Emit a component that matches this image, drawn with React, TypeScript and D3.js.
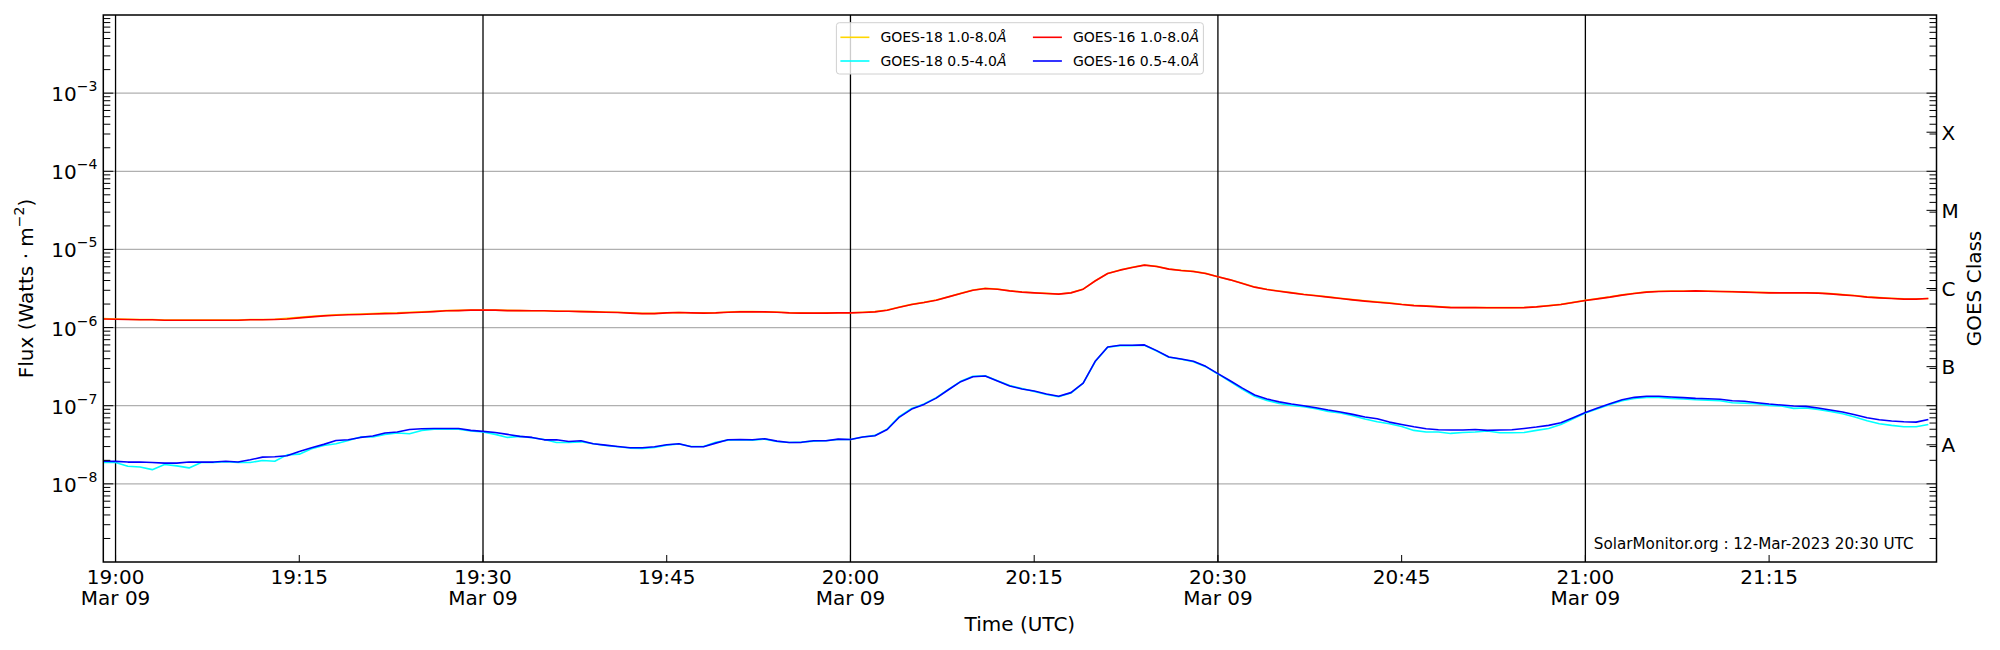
import { useEffect, useRef } from "react";
import * as d3 from "d3";

// one-minute cadence starting 18:59 UTC on 2023-03-09
const START = Date.UTC(2023, 2, 9, 18, 59);
const END = Date.UTC(2023, 2, 9, 21, 28, 40);
const N_POINTS = 150;

// GOES-16 1.0-8.0 Å, units of 1e-6 W m^-2
const goes16Long = [
  1.29, 1.28, 1.27, 1.26, 1.26, 1.24, 1.24, 1.24, 1.24, 1.24,
  1.24, 1.24, 1.26, 1.26, 1.27, 1.29, 1.33, 1.37, 1.41, 1.44,
  1.46, 1.47, 1.49, 1.51, 1.52, 1.55, 1.57, 1.6, 1.64, 1.65,
  1.67, 1.67, 1.67, 1.65, 1.65, 1.64, 1.64, 1.62, 1.62, 1.6,
  1.59, 1.57, 1.56, 1.53, 1.51, 1.51, 1.54, 1.56, 1.54, 1.53,
  1.54, 1.57, 1.59, 1.59, 1.59, 1.57, 1.54, 1.53, 1.53, 1.53,
  1.54, 1.54, 1.56, 1.59, 1.67, 1.82, 1.97, 2.09, 2.24, 2.47,
  2.73, 3.01, 3.16, 3.1, 2.95, 2.84, 2.78, 2.73, 2.68, 2.78,
  3.1, 3.97, 4.92, 5.43, 5.88, 6.3, 6.05, 5.6, 5.38, 5.22,
  4.92, 4.46, 4.08, 3.66, 3.29, 3.07, 2.92, 2.78, 2.65, 2.55,
  2.45, 2.35, 2.26, 2.18, 2.11, 2.05, 1.97, 1.91, 1.88, 1.84,
  1.8, 1.8, 1.8, 1.79, 1.79, 1.79, 1.8, 1.84, 1.9, 1.97,
  2.09, 2.22, 2.33, 2.45, 2.6, 2.73, 2.84, 2.89, 2.92, 2.92,
  2.95, 2.92, 2.89, 2.87, 2.84, 2.81, 2.78, 2.78, 2.78, 2.78,
  2.76, 2.7, 2.62, 2.55, 2.45, 2.4, 2.35, 2.31, 2.31, 2.35,
];

// GOES-18 1.0-8.0 Å, units of 1e-6 W m^-2
const goes18Long = [
  1.3, 1.29, 1.28, 1.27, 1.27, 1.25, 1.25, 1.25, 1.25, 1.25,
  1.25, 1.25, 1.27, 1.27, 1.28, 1.31, 1.35, 1.39, 1.43, 1.46,
  1.48, 1.49, 1.51, 1.53, 1.54, 1.57, 1.59, 1.62, 1.65, 1.66,
  1.68, 1.68, 1.67, 1.66, 1.65, 1.64, 1.64, 1.63, 1.62, 1.61,
  1.6, 1.58, 1.57, 1.54, 1.52, 1.52, 1.55, 1.56, 1.55, 1.54,
  1.55, 1.58, 1.6, 1.6, 1.59, 1.58, 1.55, 1.54, 1.53, 1.54,
  1.55, 1.55, 1.57, 1.6, 1.68, 1.83, 1.98, 2.1, 2.25, 2.48,
  2.74, 3.02, 3.17, 3.11, 2.96, 2.85, 2.79, 2.74, 2.69, 2.79,
  3.11, 3.98, 4.93, 5.44, 5.9, 6.32, 6.07, 5.62, 5.4, 5.24,
  4.94, 4.48, 4.1, 3.68, 3.31, 3.09, 2.94, 2.8, 2.67, 2.57,
  2.47, 2.37, 2.28, 2.2, 2.13, 2.07, 1.99, 1.93, 1.9, 1.86,
  1.82, 1.81, 1.81, 1.8, 1.8, 1.8, 1.81, 1.85, 1.91, 1.98,
  2.1, 2.23, 2.35, 2.47, 2.62, 2.75, 2.86, 2.91, 2.93, 2.93,
  2.96, 2.93, 2.9, 2.88, 2.85, 2.82, 2.8, 2.79, 2.79, 2.79,
  2.77, 2.72, 2.64, 2.57, 2.47, 2.42, 2.37, 2.33, 2.32, 2.36,
];

// GOES-16 0.5-4.0 Å, units of 1e-8 W m^-2
const goes16Short = [
  1.95, 1.94, 1.9, 1.9, 1.88, 1.84, 1.84, 1.9, 1.9, 1.9,
  1.95, 1.9, 2.03, 2.2, 2.22, 2.29, 2.6, 2.9, 3.2, 3.59,
  3.66, 3.93, 4.09, 4.47, 4.6, 4.97, 5.07, 5.12, 5.12, 5.12,
  4.83, 4.69, 4.55, 4.3, 4.05, 3.93, 3.66, 3.66, 3.49, 3.56,
  3.26, 3.13, 3.01, 2.9, 2.9, 2.98, 3.16, 3.26, 2.98, 2.98,
  3.32, 3.66, 3.7, 3.66, 3.78, 3.52, 3.38, 3.4, 3.56, 3.56,
  3.74, 3.7, 3.97, 4.13, 4.97, 7.16, 9.06, 10.4, 12.5, 16.0,
  20.3, 23.5, 24.0, 20.7, 17.9, 16.4, 15.4, 14.1, 13.2, 14.7,
  19.5, 37.4, 56.5, 59.3, 59.3, 60.0, 50.7, 42.1, 39.7, 37.0,
  31.9, 25.7, 20.9, 16.8, 13.7, 12.2, 11.2, 10.5, 10.0, 9.43,
  8.8, 8.3, 7.74, 7.16, 6.81, 6.17, 5.76, 5.38, 5.07, 4.92,
  4.88, 4.88, 4.97, 4.83, 4.88, 4.92, 5.12, 5.33, 5.6, 6.05,
  7.02, 8.21, 9.33, 10.6, 11.9, 12.8, 13.2, 13.2, 12.9, 12.7,
  12.4, 12.3, 12.1, 11.6, 11.4, 10.9, 10.5, 10.2, 9.9, 9.81,
  9.33, 8.8, 8.3, 7.66, 7.02, 6.61, 6.36, 6.23, 6.17, 6.68,
];

// GOES-18 0.5-4.0 Å, units of 1e-8 W m^-2
const goes18Short = [
  1.88, 1.88, 1.68, 1.64, 1.52, 1.77, 1.7, 1.6, 1.88, 1.88,
  1.92, 1.88, 1.88, 1.99, 1.95, 2.35, 2.4, 2.81, 3.1, 3.26,
  3.59, 3.97, 3.97, 4.3, 4.47, 4.38, 4.83, 5.02, 5.02, 5.02,
  4.74, 4.6, 4.3, 3.93, 4.05, 3.89, 3.7, 3.38, 3.4, 3.45,
  3.26, 3.1, 2.98, 2.87, 2.84, 2.92, 3.13, 3.23, 3.01, 3.01,
  3.4, 3.63, 3.66, 3.63, 3.74, 3.49, 3.38, 3.42, 3.52, 3.56,
  3.7, 3.7, 3.97, 4.17, 5.02, 7.3, 9.24, 10.5, 12.7, 16.2,
  20.5, 23.8, 24.2, 20.9, 18.1, 16.6, 15.2, 13.9, 13.0, 14.5,
  19.4, 37.0, 55.9, 58.7, 58.7, 59.3, 50.2, 41.7, 39.3, 36.6,
  31.6, 25.5, 20.3, 16.2, 13.2, 11.7, 10.7, 10.1, 9.71, 9.15,
  8.46, 8.05, 7.44, 6.75, 6.23, 5.88, 5.43, 4.83, 4.6, 4.6,
  4.42, 4.55, 4.6, 4.74, 4.51, 4.51, 4.55, 4.83, 5.12, 5.76,
  6.81, 8.05, 9.15, 10.4, 11.6, 12.4, 12.8, 12.8, 12.4, 12.2,
  11.9, 11.8, 11.6, 10.9, 10.8, 10.6, 10.1, 9.9, 9.24, 9.33,
  8.97, 8.46, 7.89, 7.16, 6.42, 5.88, 5.6, 5.38, 5.38, 5.76,
];

const LONG_UNIT = 1e-6;
const SHORT_UNIT = 1e-8;

const decadeLabels = [-8, -7, -6, -5, -4, -3];
const goesClasses = ["A", "B", "C", "M", "X"];
const watermark = "SolarMonitor.org : 12-Mar-2023 20:30 UTC";

const series = [
  { name: "GOES-18 1.0-8.0", values: goes18Long, unit: LONG_UNIT, color: "#ffd700" },
  { name: "GOES-18 0.5-4.0", values: goes18Short, unit: SHORT_UNIT, color: "#00ffff" },
  { name: "GOES-16 1.0-8.0", values: goes16Long, unit: LONG_UNIT, color: "#ff0000" },
  { name: "GOES-16 0.5-4.0", values: goes16Short, unit: SHORT_UNIT, color: "#0000ff" },
];

const FONT = "'DejaVu Sans', sans-serif";

export default function App() {
  const svgRef = useRef<SVGSVGElement>(null);

  useEffect(() => {
    if (!svgRef.current) return;
    const width = 2000;
    const height = 650;
    const margin = { top: 15, right: 63.5, bottom: 88, left: 103.3 };
    const innerW = width - margin.left - margin.right;
    const innerH = height - margin.top - margin.bottom;

    const svg = d3.select(svgRef.current);
    svg.selectAll("*").remove();
    svg.append("rect").attr("width", width).attr("height", height).attr("fill", "#fff");

    const g = svg.append("g").attr("transform", `translate(${margin.left},${margin.top})`);

    const times = d3.range(N_POINTS).map((i) => new Date(START + i * 60000));
    const x = d3.scaleUtc().domain([new Date(START), new Date(END)]).range([0, innerW]);
    const y = d3.scaleLog().domain([1e-9, 1e-2]).range([innerH, 0]);

    // horizontal grid at each decade
    const decades = d3.range(-8, -2).map((e) => Math.pow(10, e));
    g.append("g")
      .selectAll("line")
      .data(decades)
      .join("line")
      .attr("x1", 0)
      .attr("x2", innerW)
      .attr("y1", (d) => y(d))
      .attr("y2", (d) => y(d))
      .attr("stroke", "#b0b0b0")
      .attr("stroke-width", 1.3);

    // vertical lines every half hour
    const halfHours = d3.utcMinute.every(30)!.range(new Date(START), new Date(END));
    g.append("g")
      .selectAll("line")
      .data(halfHours)
      .join("line")
      .attr("x1", (d) => x(d))
      .attr("x2", (d) => x(d))
      .attr("y1", 0)
      .attr("y2", innerH)
      .attr("stroke", "#000")
      .attr("stroke-width", 1.3);

    // data lines
    g.append("defs")
      .append("clipPath")
      .attr("id", "plot-clip")
      .append("rect")
      .attr("width", innerW)
      .attr("height", innerH);

    const line = d3
      .line<number>()
      .x((_, i) => x(times[i]))
      .y((d) => y(d));

    series.forEach((s) => {
      g.append("path")
        .attr("clip-path", "url(#plot-clip)")
        .attr("d", line(s.values.map((v) => v * s.unit)))
        .attr("fill", "none")
        .attr("stroke", s.color)
        .attr("stroke-width", 1.6)
        .attr("stroke-linejoin", "round");
    });

    // y ticks (inward), both sides
    const minorTicks: number[] = [];
    for (let e = -9; e < -2; e++) {
      for (let k = 2; k <= 9; k++) minorTicks.push(k * Math.pow(10, e));
    }
    const ticks = g.append("g").attr("stroke", "#000").attr("stroke-width", 1);
    minorTicks.forEach((v) => {
      ticks.append("line").attr("x1", 0).attr("x2", 7).attr("y1", y(v)).attr("y2", y(v));
      ticks.append("line").attr("x1", innerW).attr("x2", innerW - 7).attr("y1", y(v)).attr("y2", y(v));
    });
    decades.forEach((v) => {
      ticks.append("line").attr("x1", 0).attr("x2", 10).attr("y1", y(v)).attr("y2", y(v));
      ticks.append("line").attr("x1", innerW).attr("x2", innerW - 10).attr("y1", y(v)).attr("y2", y(v));
    });
    goesClasses.forEach((_, i) => {
      const v = Math.pow(10, -7.5 + i);
      ticks.append("line").attr("x1", innerW).attr("x2", innerW - 10).attr("y1", y(v)).attr("y2", y(v));
    });

    // x ticks every 15 minutes
    const quarterHours = d3.utcMinute.every(15)!.range(new Date(START), new Date(END));
    quarterHours.forEach((d) => {
      ticks.append("line").attr("x1", x(d)).attr("x2", x(d)).attr("y1", innerH).attr("y2", innerH - 7);
    });

    // frame
    g.append("rect")
      .attr("width", innerW)
      .attr("height", innerH)
      .attr("fill", "none")
      .attr("stroke", "#000")
      .attr("stroke-width", 1.5);

    // left tick labels 10^n
    decadeLabels.forEach((e) => {
      const t = g
        .append("text")
        .attr("x", -6)
        .attr("y", y(Math.pow(10, e)) + 8)
        .attr("text-anchor", "end")
        .attr("font-family", FONT)
        .attr("font-size", 20);
      t.append("tspan").text("10");
      t.append("tspan").attr("dy", -10).attr("font-size", 14).text(`\u2212${-e}`);
    });

    // right GOES class labels
    goesClasses.forEach((c, i) => {
      g.append("text")
        .attr("x", innerW + 5)
        .attr("y", y(Math.pow(10, -7.5 + i)) + 7.5)
        .attr("font-family", FONT)
        .attr("font-size", 20)
        .text(c);
    });

    // x tick labels
    const fmt = d3.utcFormat("%H:%M");
    const fmtDate = d3.utcFormat("%b %d");
    quarterHours.forEach((d) => {
      const t = g
        .append("text")
        .attr("x", x(d))
        .attr("y", innerH + 22)
        .attr("text-anchor", "middle")
        .attr("font-family", FONT)
        .attr("font-size", 20);
      t.append("tspan").attr("x", x(d)).text(fmt(d));
      if (d.getUTCMinutes() % 30 === 0) {
        t.append("tspan").attr("x", x(d)).attr("dy", 21).text(fmtDate(d));
      }
    });

    // axis titles
    svg.append("text")
      .attr("x", margin.left + innerW / 2)
      .attr("y", 631)
      .attr("text-anchor", "middle")
      .attr("font-family", FONT)
      .attr("font-size", 20)
      .text("Time (UTC)");

    const yl = svg
      .append("text")
      .attr("transform", `translate(26,${margin.top + innerH / 2}) rotate(-90)`)
      .attr("text-anchor", "middle")
      .attr("dy", "0.35em")
      .attr("font-family", FONT)
      .attr("font-size", 20);
    yl.append("tspan").text("Flux (Watts \u00b7 m");
    yl.append("tspan").attr("dy", -9).attr("font-size", 14).text("\u22122");
    yl.append("tspan").attr("dy", 9).text(")");

    svg.append("text")
      .attr("transform", `translate(1974,${margin.top + innerH / 2}) rotate(-90)`)
      .attr("text-anchor", "middle")
      .attr("dy", "0.35em")
      .attr("font-family", FONT)
      .attr("font-size", 20)
      .text("GOES Class");

    // watermark
    g.append("text")
      .attr("x", innerW - 23)
      .attr("y", innerH - 13)
      .attr("text-anchor", "end")
      .attr("font-family", FONT)
      .attr("font-size", 15.2)
      .text(watermark);

    // legend, two columns filled column-wise
    const lg = svg.append("g").attr("transform", `translate(${margin.left + innerW / 2},0)`);
    const boxW = 367;
    lg.append("rect")
      .attr("x", -boxW / 2)
      .attr("y", 22.7)
      .attr("width", boxW)
      .attr("height", 51.3)
      .attr("rx", 3)
      .attr("fill", "#fff")
      .attr("fill-opacity", 0.8)
      .attr("stroke", "#d0d0d0")
      .attr("stroke-width", 1);
    series.forEach((s, i) => {
      const col = Math.floor(i / 2);
      const row = i % 2;
      const x0 = -boxW / 2 + 4 + col * 192.5;
      const yy = 37.3 + row * 23.7;
      lg.append("line")
        .attr("x1", x0)
        .attr("x2", x0 + 29)
        .attr("y1", yy)
        .attr("y2", yy)
        .attr("stroke", s.color)
        .attr("stroke-width", 1.6);
      const t = lg
        .append("text")
        .attr("x", x0 + 40)
        .attr("y", yy + 5)
        .attr("font-family", FONT)
        .attr("font-size", 14);
      t.append("tspan").text(s.name);
      t.append("tspan").attr("font-style", "italic").text("\u00c5");
    });
  }, []);

  return (
    <div style={{ position: "absolute", left: 0, top: 0 }}>
      <svg ref={svgRef} width={2000} height={650} />
    </div>
  );
}
